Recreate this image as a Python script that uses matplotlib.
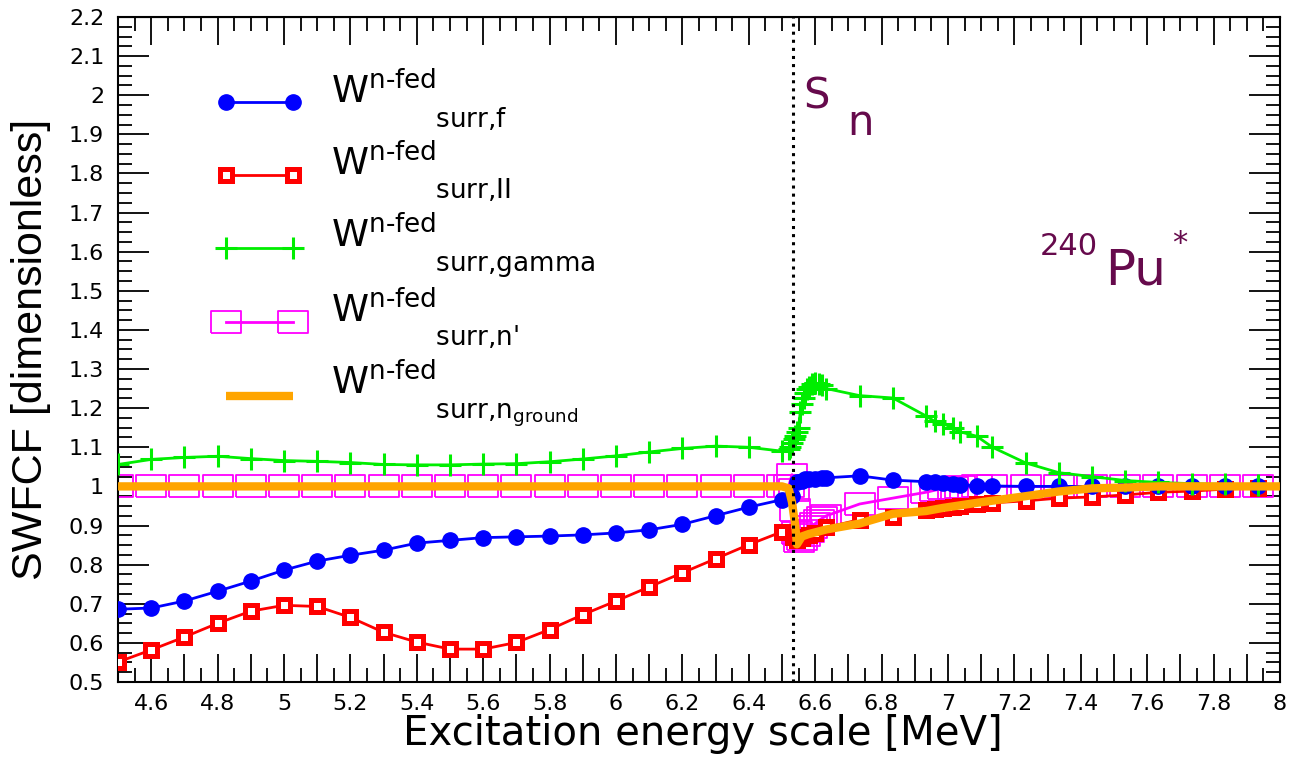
import matplotlib
matplotlib.use("Agg")
import matplotlib.pyplot as plt
from matplotlib.ticker import MultipleLocator, FuncFormatter

plt.rcParams['font.family'] = ['DejaVu Sans']
plt.rcParams['mathtext.fontset'] = 'dejavusans'

# neutron separation energy of 240Pu
S_N = 6.534

# fission channel
x_f = [4.5, 4.6, 4.7, 4.8, 4.9, 5.0, 5.1, 5.2, 5.3, 5.4, 5.5, 5.6, 5.7, 5.8, 5.9,
       6.0, 6.1, 6.2, 6.3, 6.4, 6.5, 6.53, 6.545, 6.56, 6.57, 6.58, 6.60, 6.62,
       6.634, 6.734, 6.834, 6.934, 6.96, 6.985, 7.015, 7.035, 7.087, 7.134,
       7.234, 7.334, 7.434, 7.534, 7.634, 7.734, 7.834, 7.934]
w_f = [0.686, 0.689, 0.707, 0.732, 0.758, 0.786, 0.809, 0.824, 0.837, 0.855, 0.862,
       0.869, 0.871, 0.873, 0.876, 0.881, 0.889, 0.903, 0.925, 0.947, 0.966, 0.975,
       1.010, 1.015, 1.018, 1.020, 1.020, 1.022, 1.022, 1.027, 1.016, 1.012, 1.010,
       1.008, 1.006, 1.004, 1.002, 1.001, 1.000, 1.000, 1.000, 1.000, 1.000, 1.000,
       1.000, 1.000]

# second well (class II) channel
x_ii = [4.5, 4.6, 4.7, 4.8, 4.9, 5.0, 5.1, 5.2, 5.3, 5.4, 5.5, 5.6, 5.7, 5.8, 5.9,
        6.0, 6.1, 6.2, 6.3, 6.4, 6.5, 6.534, 6.545, 6.56, 6.58, 6.60, 6.634, 6.734,
        6.834, 6.934, 6.96, 6.985, 7.015, 7.035, 7.087, 7.134, 7.234, 7.334, 7.434,
        7.534, 7.634, 7.734, 7.834, 7.934]
w_ii = [0.551, 0.582, 0.615, 0.650, 0.681, 0.696, 0.693, 0.665, 0.627, 0.602, 0.584,
        0.584, 0.601, 0.634, 0.672, 0.707, 0.743, 0.779, 0.815, 0.851, 0.884, 0.870,
        0.862, 0.868, 0.875, 0.882, 0.895, 0.915, 0.922, 0.940, 0.942, 0.944, 0.947,
        0.949, 0.954, 0.958, 0.963, 0.970, 0.973, 0.978, 0.985, 0.988, 0.993, 0.996]

# gamma channel
x_g = [4.5, 4.6, 4.7, 4.8, 4.9, 5.0, 5.1, 5.2, 5.3, 5.4, 5.5, 5.6, 5.7, 5.8, 5.9,
       6.0, 6.1, 6.2, 6.3, 6.4, 6.5, 6.52, 6.525, 6.53, 6.535, 6.54, 6.545, 6.55,
       6.555, 6.56, 6.565, 6.57, 6.575, 6.58, 6.59, 6.60, 6.61, 6.62, 6.634, 6.734,
       6.834, 6.934, 6.96, 6.985, 7.015, 7.035, 7.087, 7.134, 7.234, 7.334, 7.434,
       7.534, 7.634, 7.734, 7.834, 7.934]
w_g = [1.056, 1.069, 1.074, 1.077, 1.071, 1.066, 1.064, 1.061, 1.056, 1.055, 1.055,
       1.057, 1.058, 1.063, 1.070, 1.078, 1.088, 1.097, 1.103, 1.100, 1.090, 1.095,
       1.100, 1.110, 1.120, 1.130, 1.140, 1.150, 1.190, 1.210, 1.225, 1.240, 1.250,
       1.255, 1.262, 1.265, 1.262, 1.258, 1.250, 1.232, 1.226, 1.180, 1.166, 1.160,
       1.150, 1.140, 1.128, 1.100, 1.060, 1.035, 1.025, 1.015, 1.010, 1.007, 1.005,
       1.003]

# inelastic neutron channel
x_n = [4.5, 4.6, 4.7, 4.8, 4.9, 5.0, 5.1, 5.2, 5.3, 5.4, 5.5, 5.6, 5.7, 5.8, 5.9,
       6.0, 6.1, 6.2, 6.3, 6.4, 6.5, 6.52, 6.53, 6.535, 6.54, 6.545, 6.55, 6.56,
       6.57, 6.58, 6.59, 6.60, 6.61, 6.62, 6.634, 6.734, 6.834, 6.934, 6.96, 6.985,
       7.015, 7.035, 7.087, 7.134, 7.234, 7.334, 7.434, 7.534, 7.634, 7.734, 7.834,
       7.934]
w_n = [1.0, 1.0, 1.0, 1.0, 1.0, 1.0, 1.0, 1.0, 1.0, 1.0, 1.0, 1.0, 1.0, 1.0, 1.0,
       1.0, 1.0, 1.0, 1.0, 1.0, 1.0, 1.0, 1.030, 0.990, 0.940, 0.880, 0.860, 0.865,
       0.875, 0.885, 0.895, 0.905, 0.912, 0.918, 0.925, 0.955, 0.970, 0.985, 0.990,
       0.995, 0.997, 0.998, 1.0, 1.0, 1.0, 1.0, 1.0, 1.0, 1.0, 1.0, 1.0, 1.0]

# neutron to ground state channel
x_ng = [4.5, 5.0, 5.5, 6.0, 6.5, 6.52, 6.53, 6.54, 6.545, 6.56, 6.58, 6.634, 6.734,
        6.834, 6.934, 6.985, 7.087, 7.234, 7.334, 7.434, 7.534, 7.634, 7.934, 8.0]
w_ng = [1.0, 1.0, 1.0, 1.0, 1.0, 0.995, 0.960, 0.900, 0.852, 0.872, 0.878, 0.890,
        0.905, 0.930, 0.937, 0.945, 0.958, 0.975, 0.987, 0.995, 0.997, 1.0, 1.0, 1.0]

# legend labels: W^{n-fed} on top, the channel subscript shifted after it
sub_names = [r'\text{surr,f}', r'\text{surr,II}', r'\text{surr,gamma}',
             r"\text{surr,n'}", r'\text{surr,n}_{\text{ground}}']
labels = [r'$\mathregular{W}^{\text{n-fed}}$' + '\n'
          + r'$\hspace{2.85}{}_{%s}$' % s for s in sub_names]

PURPLE = '#660a4c'
rect = [(-1.4, -1), (1.4, -1), (1.4, 1), (-1.4, 1), (-1.4, -1)]

fig = plt.figure(figsize=(13.03, 7.58), dpi=100)
ax = fig.add_axes([0.0906, 0.1003, 0.8917, 0.8773])

h_n, = ax.plot(x_n, w_n, color='#ff00ff', lw=2, marker=rect, ms=22,
               mfc='none', mec='#ff00ff', mew=1.3, zorder=2)
h_ii, = ax.plot(x_ii, w_ii, color='red', lw=2, marker='s', ms=9,
                mfc='white', mec='red', mew=3.6, zorder=3)
h_f, = ax.plot(x_f, w_f, color='blue', lw=2, marker='o', ms=11,
               mfc='blue', mec='blue', zorder=4)
h_g, = ax.plot(x_g, w_g, color='#00ee00', lw=2, marker='+', ms=16,
               mew=2.2, zorder=5)
h_ng, = ax.plot(x_ng, w_ng, color='#ffa500', lw=6, solid_capstyle='butt', zorder=6)

ax.axvline(S_N, color='black', ls=':', lw=2.2, zorder=7)

ax.set_xlim(4.5, 8.0)
ax.set_ylim(0.5, 2.2)

ax.xaxis.set_major_locator(MultipleLocator(0.1))
ax.xaxis.set_minor_locator(MultipleLocator(0.05))
ax.xaxis.set_major_formatter(FuncFormatter(
    lambda v, p: ('%g' % round(v, 1)) if round(v * 10) % 2 == 0 else ''))
ax.yaxis.set_major_locator(MultipleLocator(0.1))
ax.yaxis.set_minor_locator(MultipleLocator(0.025))
ax.yaxis.set_major_formatter(FuncFormatter(lambda v, p: '%g' % round(v, 1)))

ax.tick_params(which='both', direction='in', top=False, right=True,
               labelsize=16, width=1.3)
ax.tick_params(which='major', length=20, pad=9)
ax.tick_params(which='minor', length=10)
ax.tick_params(axis='y', which='major', length=22, pad=10)

top = ax.secondary_xaxis('top')
top.xaxis.set_major_locator(MultipleLocator(0.2))
top.xaxis.set_minor_locator(MultipleLocator(0.05))
top.tick_params(which='both', direction='in', labeltop=False, width=1.3)
top.tick_params(which='major', length=20)
top.tick_params(which='minor', length=10)

for sp in ax.spines.values():
    sp.set_linewidth(1.5)

ax.set_xlabel('Excitation energy scale [MeV]', fontsize=29)
ax.xaxis.set_label_coords(0.503, -0.048)
ax.set_ylabel('SWFCF [dimensionless]', fontsize=31, family='Liberation Sans')
ax.yaxis.set_label_coords(-0.058, 0.5)

ax.text(6.563, 1.967, 'S', fontsize=30, color=PURPLE, ha='left', va='baseline')
ax.text(6.696, 1.898, 'n', fontsize=30, color=PURPLE, ha='left', va='baseline')
ax.text(7.277, 1.592, '240', fontsize=22, color=PURPLE, ha='left', va='baseline')
ax.text(7.473, 1.515, 'Pu', fontsize=36, color=PURPLE, ha='left', va='baseline')
ax.text(7.675, 1.60, '*', fontsize=22, color=PURPLE, ha='left', va='baseline')

leg = ax.legend([h_f, h_ii, h_g, h_n, h_ng], labels, loc='upper left',
                bbox_to_anchor=(0.083, 0.917), frameon=False, fontsize=27,
                numpoints=2, handlelength=2.4, handletextpad=0.7,
                labelspacing=0.3, borderpad=0, borderaxespad=0)
for t in leg.get_texts():
    t.set_linespacing(0.35)
# centre each legend key on its two-line label
for col in leg._legend_handle_box.get_children():
    for row in col.get_children():
        row.align = 'center'

fig.savefig('out.png', dpi=100)
